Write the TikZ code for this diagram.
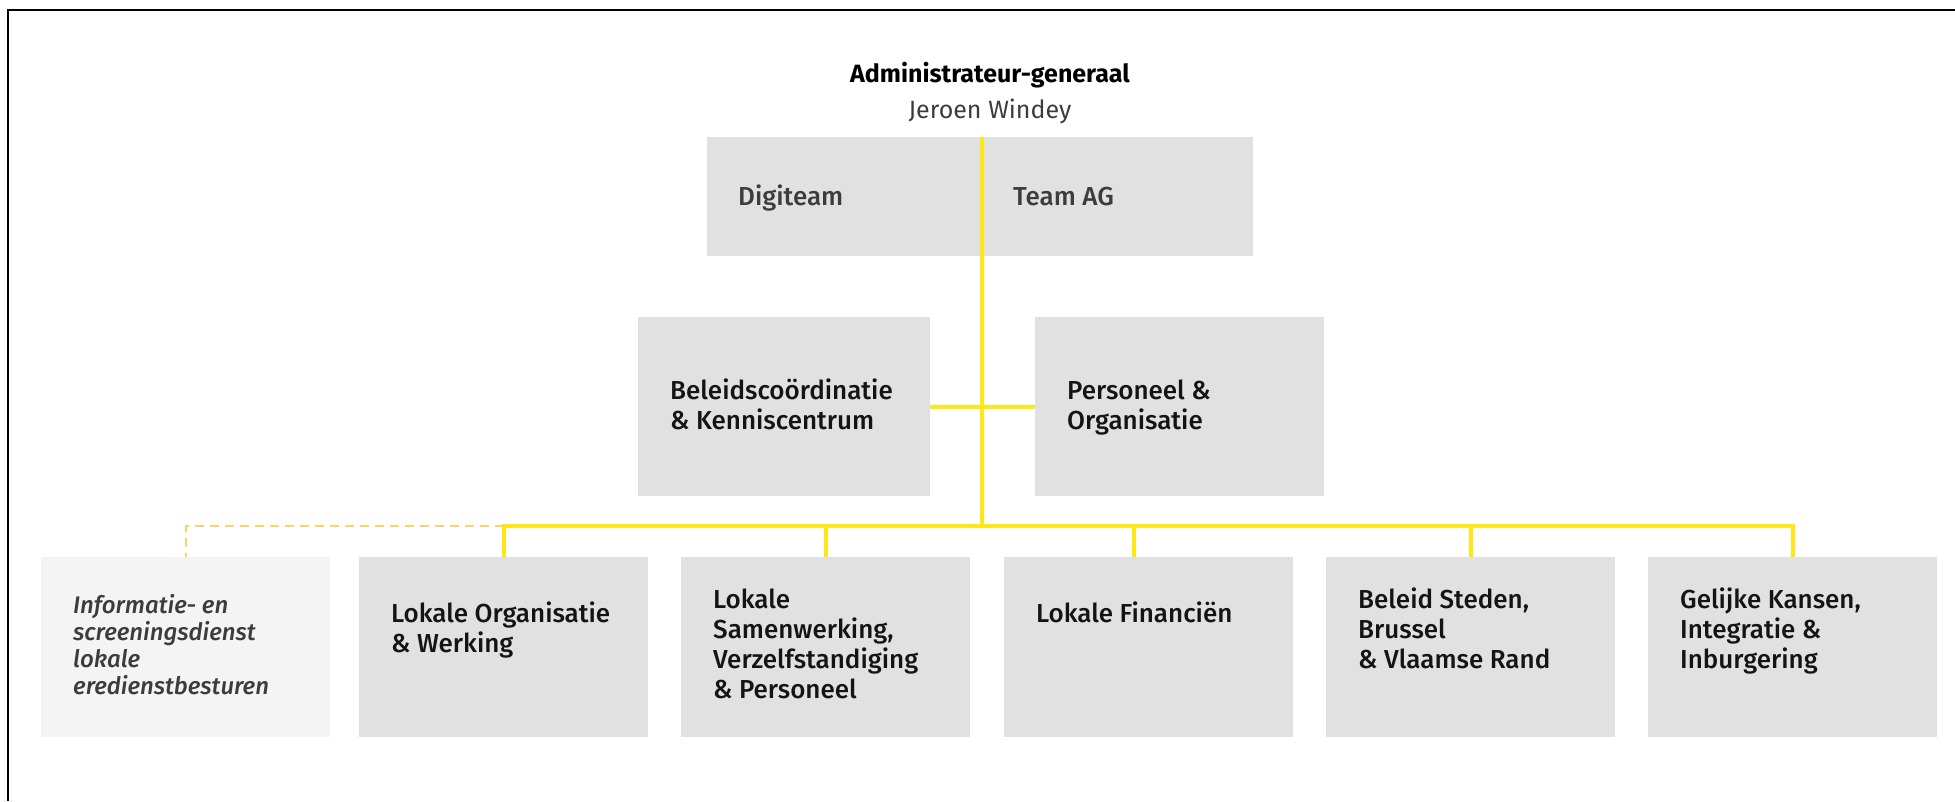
\documentclass[tikz,border=0pt]{standalone}
\usepackage{fontspec}
\setmainfont{Fira Sans}
\newfontfamily\medfont{Fira Sans Medium}

\definecolor{unitgray}{HTML}{E1E1E1}
\definecolor{softgray}{HTML}{F4F4F4}
\definecolor{flyellow}{HTML}{FFE615}
\definecolor{dashyellow}{HTML}{FFD45C}
\definecolor{inkgray}{HTML}{3C3C3C}

\tikzset{
  unit/.style={rectangle, fill=unitgray, anchor=north west, inner xsep=32pt, inner ysep=0pt, text width=225pt, align=flush left, text=black!92, font=\medfont\fontsize{26}{30}\selectfont},
  unit top/.style={text height=51pt, text depth=129pt},
  unit low/.style={text height=65pt, text depth=115pt},
  bar/.style={draw=flyellow, line width=4pt},
  bar dashed/.style={draw=dashyellow, line width=2pt, dash pattern=on 9pt off 6pt}
}

\begin{document}
\begin{tikzpicture}[x=1pt, y=-1pt]
\useasboundingbox (0,0) rectangle (1955,801);

\draw[line width=2.5pt] (1955,10) -- (8,10) -- (8,801);

\node[anchor=base, font=\bfseries\fontsize{25}{30}\selectfont] (ag) at (990,82) {Administrateur-generaal};
\node[anchor=base, text=inkgray, font=\fontsize{25}{30}\selectfont] (name) at (990,118) {Jeroen Windey};

\node[unit, inner xsep=31pt, text width=213pt, text height=68pt, text depth=51pt, text=inkgray] (digi) at (707,137) {Digiteam};
\node[unit, inner xsep=31pt, text width=209pt, text height=68pt, text depth=51pt, text=inkgray] (teamag) at (982,137) {Team AG};

\node[unit, text width=228pt, text height=82pt, text depth=97pt] (bc) at (638,317) {Beleidscoördinatie\\ \& Kenniscentrum};
\node[unit, text height=82pt, text depth=97pt] (po) at (1035,317) {Personeel \&\\ Organisatie};

\node[unit, fill=softgray, text=inkgray, text height=56pt, text depth=124pt, font=\medfont\itshape\fontsize{24}{27}\selectfont] (info) at (41,557) {Informatie- en\\ screeningsdienst\\ lokale\\ eredienstbesturen};
\node[unit, unit low] (lo) at (359,557) {Lokale Organisatie\\ \& Werking};
\node[unit, unit top] (ls) at (681,557) {Lokale\\ Samenwerking,\\ Verzelfstandiging\\ \& Personeel};
\node[unit, unit low] (lf) at (1004,557) {Lokale Financiën};
\node[unit, unit top] (bs) at (1326,557) {Beleid Steden,\\ Brussel\\ \& Vlaamse Rand};
\node[unit, unit top] (gk) at (1648,557) {Gelijke Kansen,\\ Integratie \&\\ Inburgering};

\coordinate (bus) at (983,526);

\draw[bar] (digi.north east) -- (digi.north east |- bus);
\draw[bar] (bc.east) -- (po.west);
\draw[bar] (lo.north) |- (gk.north |- bus) -- (gk.north);
\draw[bar] (ls.north |- bus) -- (ls.north);
\draw[bar] ([xshift=-15pt]lf.north |- bus) -- ([xshift=-15pt]lf.north);
\draw[bar] (bs.north |- bus) -- (bs.north);
\draw[bar dashed] (lo.north |- bus) -| (info.north);
\end{tikzpicture}
\end{document}
